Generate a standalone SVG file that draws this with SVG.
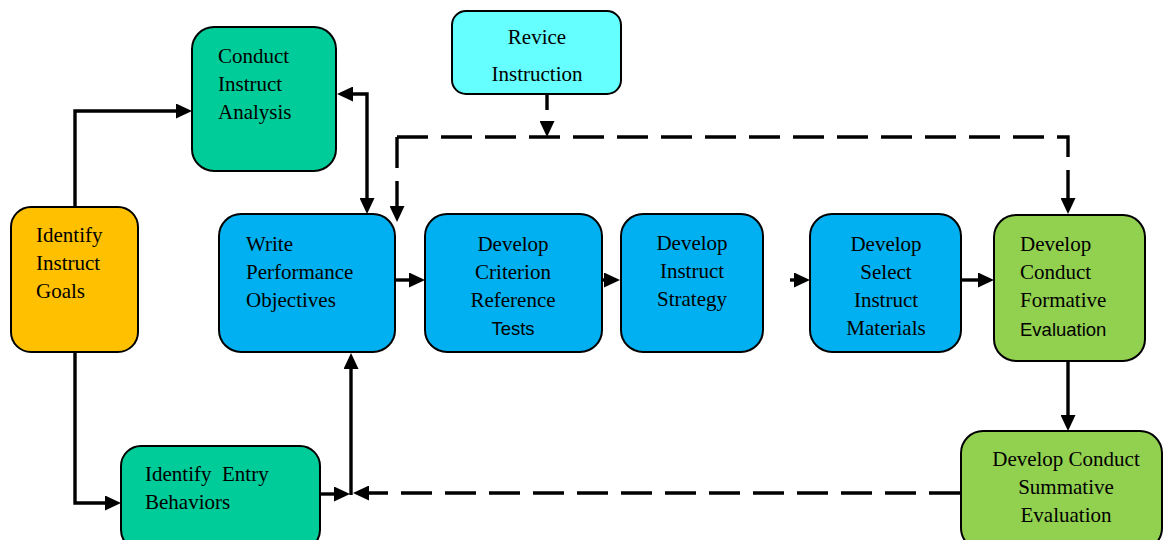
<svg xmlns="http://www.w3.org/2000/svg" width="1163" height="540" viewBox="0 0 1163 540">
<defs>
<style>
.box{stroke:#000;stroke-width:2}
.teal{fill:#00CC99}.gold{fill:#FFC000}.blue{fill:#00B0F0}.cyan{fill:#66FFFF}.green{fill:#92D050}
text{font-family:"Liberation Serif","Times New Roman",serif;font-size:21px;fill:#000}
.sans{font-family:"Liberation Sans",Arial,sans-serif;font-size:18.5px}
.c{text-anchor:middle}
.ln{fill:none;stroke:#000;stroke-width:3.4}
.dash{stroke-dasharray:31 13}
</style>
<marker id="ah" viewBox="0 0 16 15" refX="12" refY="7.5" markerWidth="16" markerHeight="15" markerUnits="userSpaceOnUse" orient="auto-start-reverse">
<path d="M0,0 L16,7.5 L0,15 z" fill="#000"/>
</marker>
</defs>
<rect width="1163" height="540" fill="#fff"/>

<g id="conduct-analysis">
<rect class="box teal" x="192" y="27" width="144" height="144" rx="22"/>
<text x="218" y="63">Conduct</text>
<text x="218" y="91">Instruct</text>
<text x="218" y="119">Analysis</text>
</g>

<g id="revice-instruction">
<rect class="box cyan" x="452" y="11" width="169" height="83" rx="14"/>
<text class="c" x="537" y="44">Revice</text>
<text class="c" x="537" y="81">Instruction</text>
</g>

<g id="identify-goals">
<rect class="box gold" x="11" y="207" width="127" height="145" rx="20"/>
<text x="36" y="242">Identify</text>
<text x="36" y="270">Instruct</text>
<text x="36" y="298">Goals</text>
</g>

<g id="write-objectives">
<rect class="box blue" x="219" y="214" width="176" height="138" rx="22"/>
<text x="246" y="251">Write</text>
<text x="246" y="279">Performance</text>
<text x="246" y="307">Objectives</text>
</g>

<g id="criterion-tests">
<rect class="box blue" x="425" y="214" width="177" height="138" rx="22"/>
<text class="c" x="513" y="251">Develop</text>
<text class="c" x="513" y="279">Criterion</text>
<text class="c" x="513" y="307">Reference</text>
<text class="c sans" x="513" y="335">Tests</text>
</g>

<g id="instruct-strategy">
<rect class="box blue" x="621" y="214" width="142" height="138" rx="22"/>
<text class="c" x="692" y="250">Develop</text>
<text class="c" x="692" y="278">Instruct</text>
<text class="c" x="692" y="306">Strategy</text>
</g>

<g id="select-materials">
<rect class="box blue" x="810" y="214" width="151" height="138" rx="22"/>
<text class="c" x="886" y="251">Develop</text>
<text class="c" x="886" y="279">Select</text>
<text class="c" x="886" y="307">Instruct</text>
<text class="c" x="886" y="335">Materials</text>
</g>

<g id="formative-evaluation">
<rect class="box green" x="994" y="215" width="151" height="146" rx="22"/>
<text x="1020" y="251">Develop</text>
<text x="1020" y="279">Conduct</text>
<text x="1020" y="307">Formative</text>
<text class="sans" x="1020" y="336">Evaluation</text>
</g>

<g id="entry-behaviors">
<rect class="box teal" x="121" y="446" width="199" height="104" rx="20"/>
<text x="145" y="481" style="white-space:pre">Identify  Entry</text>
<text x="145" y="509">Behaviors</text>
</g>

<g id="summative-evaluation">
<rect class="box green" x="961" y="431" width="201" height="119" rx="22"/>
<text class="c" x="1066" y="466">Develop Conduct</text>
<text class="c" x="1066" y="494">Summative</text>
<text class="c" x="1066" y="522">Evaluation</text>
</g>

<g id="connectors">
<path class="ln" d="M75,207 V111 H188" marker-end="url(#ah)"/>
<path class="ln" d="M341,94 H367 V210" marker-start="url(#ah)" marker-end="url(#ah)"/>
<path class="ln" d="M75,352 V503 H117" marker-end="url(#ah)"/>
<path class="ln" d="M320,494 H346" marker-end="url(#ah)"/>
<path class="ln" d="M351,495 V357" marker-end="url(#ah)"/>
<path class="ln" d="M395,280 H421" marker-end="url(#ah)"/>
<path class="ln" d="M602,280 H616" marker-end="url(#ah)"/>
<path class="ln" d="M790,280 H806" marker-end="url(#ah)"/>
<path class="ln" d="M961,280 H990" marker-end="url(#ah)"/>
<path class="ln" d="M1068,361 V427" marker-end="url(#ah)"/>
<path class="ln" d="M547,94 V133" style="stroke-dasharray:16 12" marker-end="url(#ah)"/>
<path class="ln dash" d="M397,137 V218" marker-end="url(#ah)"/>
<path class="ln dash" d="M397,137 H1068 V210" marker-end="url(#ah)"/>
<path class="ln dash" d="M960,493 H357" marker-end="url(#ah)"/>
</g>
</svg>
